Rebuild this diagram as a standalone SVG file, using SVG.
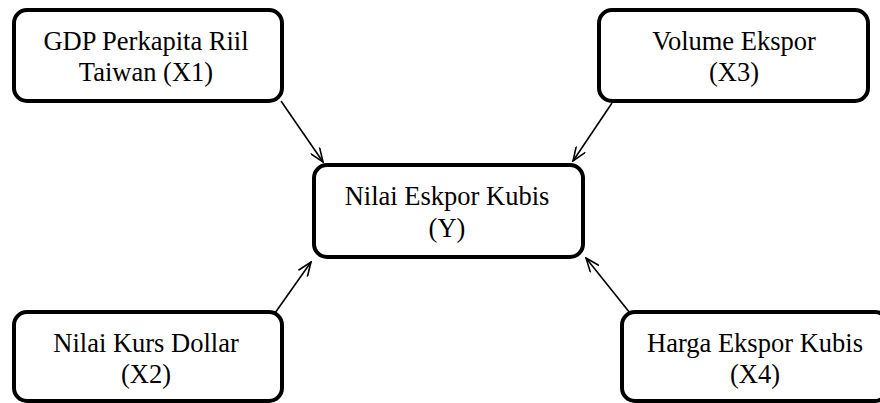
<svg xmlns="http://www.w3.org/2000/svg" width="880" height="403" viewBox="0 0 880 403">
  <style>
    .box { fill: #ffffff; stroke: #000000; stroke-width: 4; }
    .lbl { font-family: "Liberation Serif", "Times New Roman", serif; font-size: 26.5px; fill: #000000; text-anchor: middle; }
    .edge { stroke: #000000; stroke-width: 1.6; fill: none; marker-end: url(#open); }
  </style>
  <defs>
    <!-- open V-shaped arrowhead -->
    <marker id="open" viewBox="0 0 16 12" refX="15" refY="6" markerWidth="16" markerHeight="12" markerUnits="userSpaceOnUse" orient="auto">
      <path d="M1,0.5 L15,6 L1,11.5" fill="none" stroke="#000000" stroke-width="1.6"/>
    </marker>
  </defs>
  <rect width="880" height="403" fill="#ffffff"/>

  <g id="connectors">
    <line class="edge" x1="281" y1="101" x2="323" y2="162"/>
    <line class="edge" x1="612" y1="103" x2="573" y2="161"/>
    <line class="edge" x1="275" y1="313" x2="311" y2="262"/>
    <line class="edge" x1="630" y1="313" x2="586" y2="258"/>
  </g>

  <g id="x1">
    <rect class="box" x="14" y="10" width="268" height="91" rx="13"/>
    <text class="lbl" x="146" y="50">GDP Perkapita Riil</text>
    <text class="lbl" x="146" y="81">Taiwan (X1)</text>
  </g>

  <g id="x3">
    <rect class="box" x="599" y="10" width="269" height="91" rx="13"/>
    <text class="lbl" x="734" y="50">Volume Ekspor</text>
    <text class="lbl" x="734" y="81">(X3)</text>
  </g>

  <g id="y">
    <rect class="box" x="314" y="165" width="269" height="92" rx="13"/>
    <text class="lbl" x="447" y="205">Nilai Eskpor Kubis</text>
    <text class="lbl" x="447" y="237">(Y)</text>
  </g>

  <g id="x2">
    <rect class="box" x="14" y="312" width="268" height="89" rx="13"/>
    <text class="lbl" x="146" y="352">Nilai Kurs Dollar</text>
    <text class="lbl" x="146" y="383">(X2)</text>
  </g>

  <g id="x4">
    <rect class="box" x="622" y="312" width="266" height="89" rx="13"/>
    <text class="lbl" x="755" y="352">Harga Ekspor Kubis</text>
    <text class="lbl" x="755" y="383">(X4)</text>
  </g>
</svg>
